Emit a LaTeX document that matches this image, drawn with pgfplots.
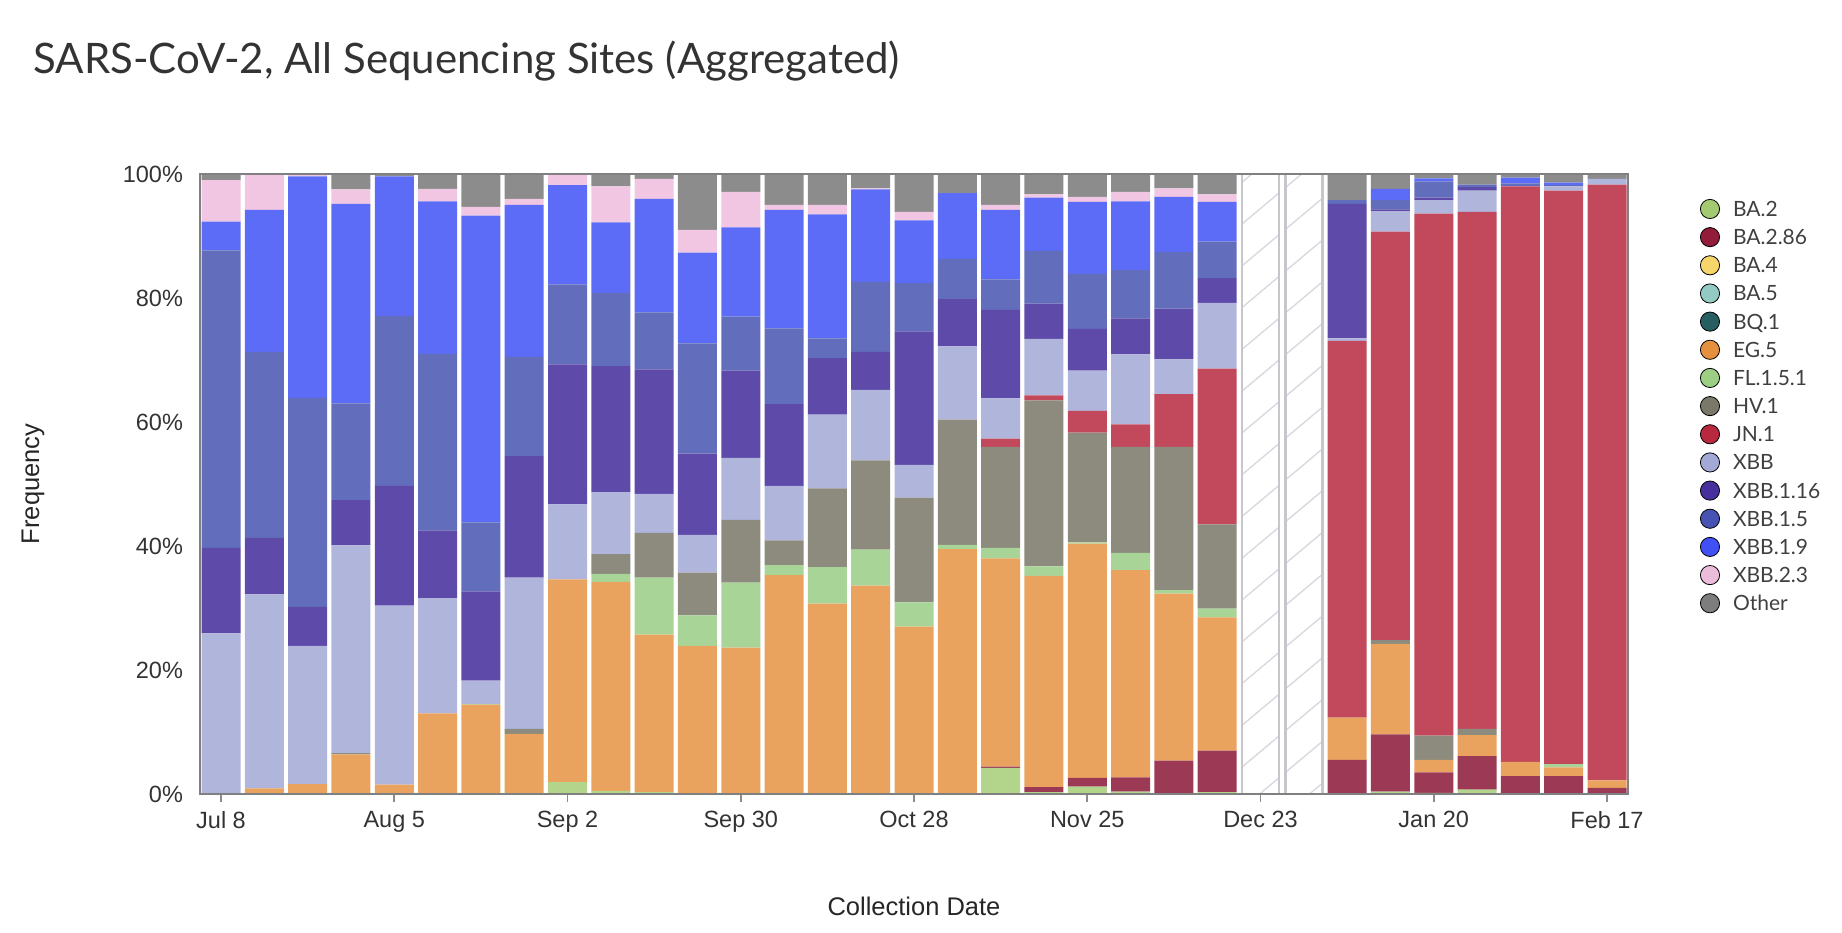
\documentclass[border=0pt]{standalone}
\usepackage{fontspec}
\setmainfont{Liberation Sans}
\newfontfamily\latofont{Lato}
\usepackage{pgfplots}
\pgfplotsset{compat=1.18}
\usepackage{pgfplotstable}
\usetikzlibrary{patterns.meta}

% bar colours
\definecolor{cBA2}{HTML}{B3D48B}
\definecolor{cBA286}{HTML}{9C3A55}
\definecolor{cEG5}{HTML}{E9A35E}
\definecolor{cFL}{HTML}{A8D597}
\definecolor{cHV1}{HTML}{8C8B7E}
\definecolor{cJN1}{HTML}{C2485C}
\definecolor{cXBB}{HTML}{B0B5DB}
\definecolor{cX116}{HTML}{5E4AA8}
\definecolor{cX15}{HTML}{626DBB}
\definecolor{cX19}{HTML}{5D6CF6}
\definecolor{cX23}{HTML}{F0C6E2}
\definecolor{cOth}{HTML}{8C8C8C}
% legend colours
\definecolor{lBA2}{HTML}{A3CA70}
\definecolor{lBA286}{HTML}{921C3A}
\definecolor{lBA4}{HTML}{F6D66A}
\definecolor{lBA5}{HTML}{93CBC4}
\definecolor{lBQ1}{HTML}{265E62}
\definecolor{lEG5}{HTML}{E5903F}
\definecolor{lFL}{HTML}{9CCF84}
\definecolor{lHV1}{HTML}{7A7868}
\definecolor{lJN1}{HTML}{B8283F}
\definecolor{lXBB}{HTML}{A3A9D6}
\definecolor{lX116}{HTML}{47309E}
\definecolor{lX15}{HTML}{4653B3}
\definecolor{lX19}{HTML}{4150F5}
\definecolor{lX23}{HTML}{ECBCDB}
\definecolor{lOth}{HTML}{7D7D7D}
\definecolor{hatchline}{HTML}{DADADE}
\definecolor{hatchborder}{HTML}{C6C6CC}

\pgfplotstableread{
x  BA2 BA286 EG5  FL   HV1  JN1  XBB  X116 X15  X19  X23 Oth
0  0   0     0    0    0    0    25.9 13.8 48.0 4.6  6.7 1.0
1  0   0     0.9  0    0    0    31.3 9.1  30.0 22.9 5.8 0
2  0   0     1.6  0    0    0    22.3 6.3  33.7 35.7 0.4 0
3  0   0     6.4  0    0.2  0    33.5 7.3  15.6 32.2 2.3 2.5
4  0   0     1.5  0    0    0    28.9 19.3 27.4 22.5 0   0.4
5  0   0     13.0 0    0    0    18.6 10.9 28.5 24.6 2.0 2.4
6  0   0     14.4 0.1  0    0    3.8  14.4 11.1 49.5 1.4 5.3
7  0   0     9.7  0    0.8  0    24.4 19.6 16.0 24.5 1.0 4.0
8  1.9 0     32.7 0    0    0    12.1 22.6 12.9 16.0 1.8 0
9  0.5 0     33.7 1.3  3.2  0    10.0 20.3 11.8 11.4 5.8 2.0
10 0.3 0     25.4 9.2  7.2  0    6.3  20.1 9.2  18.3 3.2 0.8
11 0   0     23.9 4.9  6.9  0    6.1  13.1 17.8 14.6 3.7 9.0
12 0   0     23.6 10.5 10.1 0    10.0 14.1 8.7  14.4 5.7 2.9
13 0   0     35.3 1.6  4.0  0    8.8  13.2 12.2 19.1 0.8 5.0
14 0   0     30.7 5.9  12.7 0    11.9 9.1  3.2  20.0 1.5 5.0
15 0   0     33.6 5.8  14.4 0    11.4 6.1  11.3 14.9 0.2 2.3
16 0   0     27.0 3.9  16.9 0    5.3  21.5 7.8  10.1 1.4 6.1
17 0   0     39.5 0.7  20.2 0    11.8 7.6  6.5  10.6 0   3.1
18 4.2 0.2   33.6 1.7  16.3 1.3  6.5  14.3 4.9  11.2 0.8 5.0
19 0.3 0.8   34.1 1.5  26.8 0.8  9.1  5.7  8.5  8.6  0.5 3.3
20 1.2 1.4   37.8 0.2  17.7 3.5  6.5  6.7  8.9  11.6 0.8 3.7
21 0.4 2.3   33.4 2.8  17.1 3.6  11.3 5.8  7.8  11.1 1.5 2.9
22 0   5.4   26.9 0.6  23.1 8.5  5.6  8.2  9.1  8.9  1.4 2.3
23 0.3 6.7   21.5 1.4  13.6 25.1 10.6 4.0  5.9  6.4  1.2 3.3
24 0   0     0    0    0    0    0    0    0    0    0   0
25 0   0     0    0    0    0    0    0    0    0    0   0
26 0   5.5   6.8  0    0    60.8 0.4  21.7 0.6  0    0   4.2
27 0.4 9.2   14.6 0    0.6  65.9 3.3  0.3  1.5  1.8  0   2.4
28 0.2 3.3   2.0  0    3.9  84.2 2.2  0.4  2.6  0.5  0   0.7
29 0.7 5.4   3.4  0    1.0  83.4 3.4  0.6  0.4  0    0   1.7
30 0.1 2.8   2.3  0    0    92.8 0    0    0.5  0.9  0   0.6
31 0.1 2.8   1.4  0.5  0    92.5 0.7  0    0.2  0.4  0   1.4
32 0   1.0   1.2  0    0    96.1 0.9  0    0    0    0   0.8
}\data

\pgfplotstableread{
x  v
24 100
25 100
}\nodata

\begin{document}
\begin{tikzpicture}
\useasboundingbox (0,0) rectangle (921pt,466pt);
% hatched (no data) weeks + legend
\begin{axis}[
  at={(100pt,69pt)}, anchor=south west,
  width=714pt, height=310pt, scale only axis,
  xmin=-0.485, xmax=32.485, ymin=0, ymax=100,
  hide axis,
  legend style={at={(axis description cs:1.0504,0.9597)}, anchor=north west,
    draw=none, fill=none, inner sep=0pt, outer sep=0pt, row sep=4.08pt,
    font=\latofont\fontsize{10.5}{12}\selectfont, text=black!75,
    nodes={inner sep=0pt, text height=7.5pt, text depth=0pt},
    /tikz/every odd column/.append style={column sep=6.5pt}},
  legend cell align=left,
  legend image code/.code={\fill[#1] (4.8pt,0pt) circle (4.8pt);},
]
\addplot[forget plot, ybar, bar width=18.5pt, bar shift=0pt,
  draw=hatchborder, line width=1.3pt, fill=white,
  postaction={pattern={Lines[angle=40, distance=16pt, line width=0.7pt]}, pattern color=hatchline}]
  table[x=x, y=v] {\nodata};
\addlegendimage{fill=lBA2}\addlegendentry{BA.2}
\addlegendimage{fill=lBA286}\addlegendentry{BA.2.86}
\addlegendimage{fill=lBA4}\addlegendentry{BA.4}
\addlegendimage{fill=lBA5}\addlegendentry{BA.5}
\addlegendimage{fill=lBQ1}\addlegendentry{BQ.1}
\addlegendimage{fill=lEG5}\addlegendentry{EG.5}
\addlegendimage{fill=lFL}\addlegendentry{FL.1.5.1}
\addlegendimage{fill=lHV1}\addlegendentry{HV.1}
\addlegendimage{fill=lJN1}\addlegendentry{JN.1}
\addlegendimage{fill=lXBB}\addlegendentry{XBB}
\addlegendimage{fill=lX116}\addlegendentry{XBB.1.16}
\addlegendimage{fill=lX15}\addlegendentry{XBB.1.5}
\addlegendimage{fill=lX19}\addlegendentry{XBB.1.9}
\addlegendimage{fill=lX23}\addlegendentry{XBB.2.3}
\addlegendimage{fill=lOth}\addlegendentry{Other}
\end{axis}
% main stacked bars
\begin{axis}[
  at={(100pt,69pt)}, anchor=south west,
  width=714pt, height=310pt, scale only axis,
  ybar stacked, bar width=19.5pt,
  xmin=-0.485, xmax=32.485, ymin=0, ymax=100,
  xtick={0,4,...,32},
  xticklabels={Jul 8,Aug 5,Sep 2,Sep 30,Oct 28,Nov 25,Dec 23,Jan 20,Feb 17},
  ytick={0,20,...,100},
  yticklabel={\pgfmathprintnumber{\tick}\%},
  /pgf/number format/assume math mode=true,
  tick align=outside, major tick length=4pt,
  xtick pos=left, ytick pos=left,
  xtick style={draw=black!45, line width=0.8pt},
  ytick style={draw=none},
  tick label style={font=\fontsize{11.75}{14}\selectfont, text=black!80},
  xticklabel style={yshift=-1pt},
  yticklabel style={xshift=-1pt},
  axis on top,
  axis line style={draw=black!50, line width=1pt},
  title={SARS-CoV-2, All Sequencing Sites (Aggregated)},
  every axis title/.style={at={(axis description cs:-0.117,1.1613)}, anchor=base west,
    inner sep=0pt, font=\latofont\fontsize{21}{24}\selectfont, text=black!80},
  xlabel={Collection Date}, ylabel={Frequency},
  every axis x label/.style={at={(axis description cs:0.5,-0.1806)}, anchor=center,
    font=\fontsize{12.75}{15}\selectfont, text=black!85},
  every axis y label/.style={at={(axis description cs:-0.117,0.5)}, anchor=center, rotate=90,
    font=\fontsize{12.75}{15}\selectfont, text=black!85},
]
\addplot[fill=cBA2, draw=none] table[x=x, y=BA2] {\data};
\addplot[fill=cBA286, draw=none] table[x=x, y=BA286] {\data};
\addplot[fill=cEG5, draw=none] table[x=x, y=EG5] {\data};
\addplot[fill=cFL, draw=none] table[x=x, y=FL] {\data};
\addplot[fill=cHV1, draw=none] table[x=x, y=HV1] {\data};
\addplot[fill=cJN1, draw=none] table[x=x, y=JN1] {\data};
\addplot[fill=cXBB, draw=none] table[x=x, y=XBB] {\data};
\addplot[fill=cX116, draw=none] table[x=x, y=X116] {\data};
\addplot[fill=cX15, draw=none] table[x=x, y=X15] {\data};
\addplot[fill=cX19, draw=none] table[x=x, y=X19] {\data};
\addplot[fill=cX23, draw=none] table[x=x, y=X23] {\data};
\addplot[fill=cOth, draw=none] table[x=x, y=Oth] {\data};
\end{axis}
\end{tikzpicture}
\end{document}
